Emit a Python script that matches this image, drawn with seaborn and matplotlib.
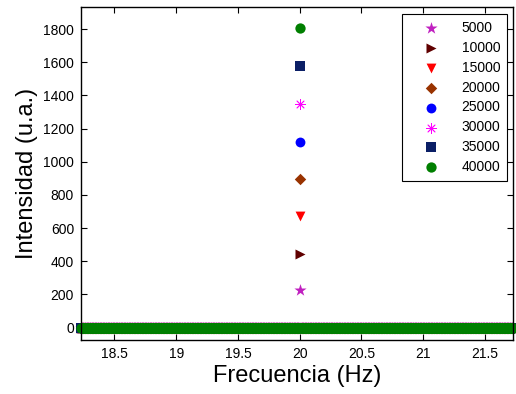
import numpy as np
import pandas as pd
import seaborn as sns
import matplotlib
matplotlib.use('Agg')
import matplotlib.pyplot as plt

# spectrum sampled on a fine frequency grid, zero everywhere except the 20 Hz line
freq = np.round(np.arange(18.23, 21.735, 0.005), 3)
peak_freq = 20.0
series = ['5000', '10000', '15000', '20000', '25000', '30000', '35000', '40000']
peak_vals = [225, 446, 671, 896, 1121, 1348, 1576, 1805]
markers = ['*', '>', 'v', 'D', 'o', (8, 2, 0), 's', 'o']
colors = ['#C020C0', '#600000', '#FF0000', '#993300', '#0000FF', '#FF00FF', '#0B1F66', '#007F00']
sizes = [85, 52, 50, 34, 50, 50, 42, 55]

sns.set_style('ticks')
plt.rcParams['font.family'] = ['Liberation Sans', 'DejaVu Sans']

fig = plt.figure(figsize=(5.16, 3.94), dpi=100)
ax = fig.add_axes([0.157, 0.137, 0.838, 0.844])

for k, name in enumerate(series):
    vals = np.zeros(len(freq))
    vals[np.argmin(np.abs(freq - peak_freq))] = peak_vals[k]
    frame = pd.DataFrame({'freq': freq, 'intensity': vals})
    sns.scatterplot(x='freq', y='intensity', data=frame, ax=ax, marker=markers[k],
                    color=colors[k], s=sizes[k], linewidth=0.6 if k == 5 else 0,
                    edgecolor=colors[k], clip_on=False, label=name, zorder=3 + k)

ax.set_xlim(18.23, 21.73)
ax.set_ylim(-75, 1930)
ax.set_xticks([18.5, 19, 19.5, 20, 20.5, 21, 21.5])
ax.set_xticklabels(['18.5', '19', '19.5', '20', '20.5', '21', '21.5'])
ax.set_yticks(range(0, 1801, 200))
ax.tick_params(axis='both', direction='in', labelsize=10, length=4, width=0.8,
               top=True, right=True, pad=5, colors='black', labelcolor='black')
for sp in ax.spines.values():
    sp.set_visible(True)
    sp.set_linewidth(1.0)
    sp.set_color('black')
    sp.set_zorder(20)

ax.set_xlabel('Frecuencia (Hz)', fontsize=17, labelpad=3, color='black')
ax.set_ylabel('Intensidad (u.a.)', fontsize=17, labelpad=4, color='black')

leg = ax.legend(loc='upper right', fontsize=10, frameon=True, fancybox=False,
                edgecolor='black', framealpha=1, labelspacing=0.42, handlelength=3.2,
                handletextpad=0.6, borderpad=0.5, borderaxespad=0,
                bbox_to_anchor=(0.986, 0.980))
leg.get_frame().set_linewidth(0.8)
leg.set_zorder(30)
for t in leg.get_texts():
    t.set_color('black')

plt.savefig('out.png', dpi=100)
